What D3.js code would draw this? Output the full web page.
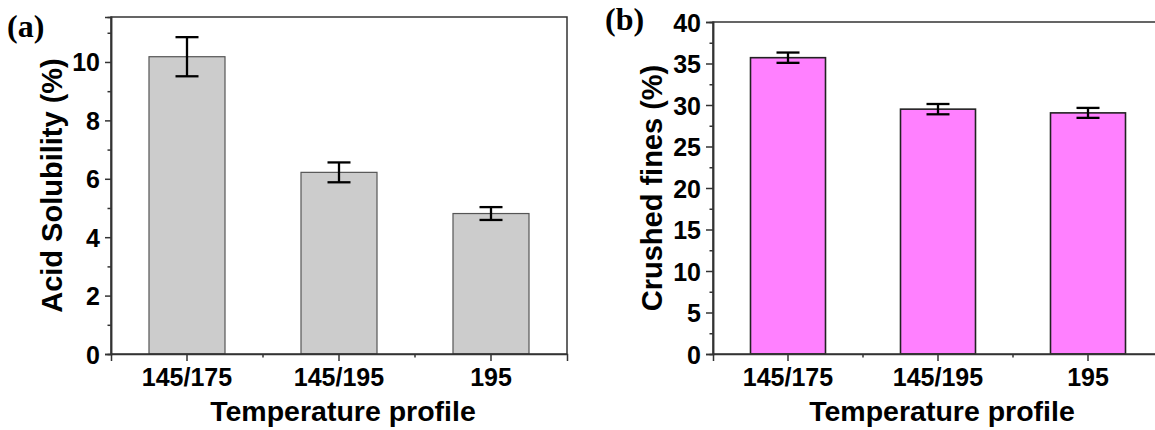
<!DOCTYPE html>
<html>
<head>
<meta charset="utf-8">
<script src="https://cdn.jsdelivr.net/npm/d3@7"></script>
<style>
  body { margin: 0; background: #fff; }
  svg { display: block; }
  text { font-family: "Liberation Sans", Arial, sans-serif; font-weight: bold; fill: #000; }
</style>
</head>
<body>
<svg id="chart" width="1155" height="430"></svg>
<script>
// data
const categories = ["145/175", "145/195", "195"];
const acidSolubility = [10.18, 6.22, 4.81];
const acidSolubilityErr = [0.67, 0.34, 0.22];
const crushedFines = [35.7, 29.5, 29.05];
const crushedFinesErr = [0.62, 0.62, 0.6];
const acidTicks = [0, 2, 4, 6, 8, 10];
const acidMinor = [1, 3, 5, 7, 9, 11];
const finesTicks = [0, 5, 10, 15, 20, 25, 30, 35, 40];
const finesMinor = [2.5, 7.5, 12.5, 17.5, 22.5, 27.5, 32.5, 37.5];

const svg = d3.select("#chart");

function drawPanel(opt) {
  let g = svg.append("g").attr("transform", `translate(${opt.left},${opt.top})`);
  let w = opt.width, h = opt.height;

  let x = d3.scaleBand().domain(categories).range([0, w])
    .paddingInner(0.5).paddingOuter(0.25);
  let y = d3.scaleLinear().domain(opt.yDomain).range([h, 0]);

  // bars
  g.selectAll("rect.bar")
    .data(opt.values)
    .join("rect")
    .attr("class", "bar")
    .attr("x", (d, i) => x(categories[i]))
    .attr("width", x.bandwidth())
    .attr("y", d => y(d))
    .attr("height", d => h - y(d))
    .attr("fill", opt.fill)
    .attr("stroke", opt.barStroke)
    .attr("stroke-width", opt.barStrokeWidth);

  // frame
  g.append("rect")
    .attr("width", w).attr("height", h)
    .attr("fill", "none").attr("stroke", "#333").attr("stroke-width", 1.5);

  // y axis, major + minor ticks
  let yAxis = g.append("g").attr("class", "ax")
    .call(d3.axisLeft(y).tickValues(opt.ticks).tickSize(opt.tickLen).tickPadding(5).tickFormat(d3.format("d")));
  yAxis.selectAll("text").style("font-size", "25px").attr("dy", "0.36em");
  g.append("g").attr("class", "ax")
    .call(d3.axisLeft(y).tickValues(opt.minor).tickSize(3.5).tickFormat(""));

  // x axis
  let xAxis = g.append("g").attr("class", "ax").attr("transform", `translate(0,${h})`)
    .call(d3.axisBottom(x).tickSize(7).tickPadding(7));
  xAxis.selectAll("text").style("font-size", "25px").attr("dy", "0.72em");
  let step = x.step();
  let xMinor = d3.range(1, categories.length).map(i => x(categories[i]) - step * 0.25);
  g.append("g").attr("class", "ax").selectAll("line")
    .data(xMinor)
    .join("line")
    .attr("x1", d => d).attr("x2", d => d)
    .attr("y1", h).attr("y2", h + 3.5);

  g.selectAll(".ax line, .ax .domain").attr("stroke", "#333").attr("stroke-width", 1.5);

  // error bars
  let cap = 11.5;
  opt.values.forEach((v, i) => {
    let cx = x(categories[i]) + x.bandwidth() / 2;
    let e = opt.errors[i];
    let eg = g.append("g").attr("stroke", "#000").attr("stroke-width", 2.3);
    eg.append("line").attr("x1", cx).attr("x2", cx).attr("y1", y(v + e)).attr("y2", y(v - e));
    eg.append("line").attr("x1", cx - cap).attr("x2", cx + cap).attr("y1", y(v + e)).attr("y2", y(v + e));
    eg.append("line").attr("x1", cx - cap).attr("x2", cx + cap).attr("y1", y(v - e)).attr("y2", y(v - e));
  });

  // axis titles
  g.append("text")
    .attr("x", w / 2 + 4)
    .attr("y", h + 67)
    .attr("text-anchor", "middle")
    .style("font-size", "28.5px")
    .text("Temperature profile");

  g.append("text")
    .attr("transform", `translate(${opt.yTitleX},${h / 2}) rotate(-90)`)
    .attr("text-anchor", "middle")
    .style("font-size", "29px")
    .text(opt.yTitle);

  // panel label
  svg.append("text")
    .attr("x", opt.labelX).attr("y", opt.labelY)
    .style("font-family", "'Liberation Serif', 'Times New Roman', serif")
    .style("font-size", "32px")
    .text(opt.label);
}

drawPanel({
  left: 111, top: 17, width: 456, height: 337,
  yDomain: [0, 11.54],
  values: acidSolubility, errors: acidSolubilityErr,
  ticks: acidTicks, minor: acidMinor, tickLen: 6,
  fill: "#cccccc", barStroke: "#555", barStrokeWidth: 1.2,
  yTitle: "Acid Solubility (%)", yTitleX: -49,
  label: "(a)", labelX: 7, labelY: 37
});

drawPanel({
  left: 713, top: 22, width: 450, height: 332,
  yDomain: [0, 40],
  values: crushedFines, errors: crushedFinesErr,
  ticks: finesTicks, minor: finesMinor, tickLen: 7,
  fill: "#ff80ff", barStroke: "#222", barStrokeWidth: 1.6,
  yTitle: "Crushed fines (%)", yTitleX: -51,
  label: "(b)", labelX: 605, labelY: 30
});
</script>
</body>
</html>
